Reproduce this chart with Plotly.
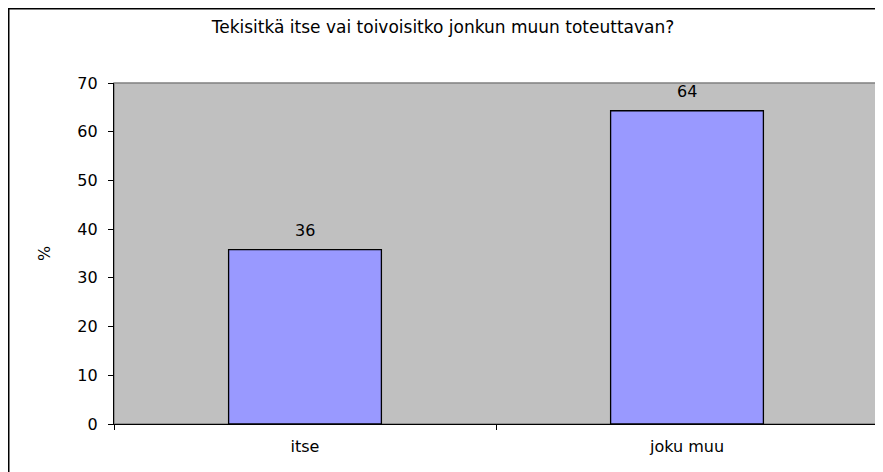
import plotly.graph_objects as go

categories = ["itse", "joku muu"]
values = [35.8, 64.3]
labels = ["36", "64"]
y_ticks = [0, 10, 20, 30, 40, 50, 60, 70]

# page body has an 8px margin, so the figure is drawn 8px in from the window edge
W, H = 875, 464
L, R, T, B = 106, 5, 75, 48
pw, ph = W - L - R, H - T - B

FONT = "DejaVu Sans, Verdana, sans-serif"

fig = go.Figure()
fig.add_trace(go.Bar(
    x=categories, y=values,
    marker=dict(color="#9999FF", line=dict(color="black", width=1.3)),
    width=0.4,
    hoverinfo="skip",
))

for c, v, t in zip(categories, values, labels):
    fig.add_annotation(x=c, y=v, text=t, showarrow=False, yanchor="bottom",
                       yshift=8, font=dict(size=16, color="black"))

# outer chart border (left/top visible at the figure edge)
fig.add_shape(type="rect", xref="paper", yref="paper",
              x0=(0.75 - L) / pw, x1=(W + 5 - L) / pw,
              y0=-(B + 5) / ph, y1=(T + ph - 0.75) / ph,
              line=dict(color="black", width=1.5), layer="below")
# plot-area border (grey top/right)
fig.add_shape(type="rect", xref="paper", yref="paper", x0=0, x1=1, y0=0, y1=1,
              line=dict(color="#808080", width=1.5), layer="below")

fig.update_layout(
    width=W, height=H,
    margin=dict(l=L, r=R, t=T, b=B, pad=0),
    paper_bgcolor="white",
    plot_bgcolor="#C0C0C0",
    font=dict(family=FONT, size=16, color="black"),
    title=dict(text="Tekisitkä itse vai toivoisitko jonkun muun toteuttavan?",
               x=(443 - 8) / W, xref="container", xanchor="center",
               y=1 - 19 / H, yref="container", yanchor="middle",
               font=dict(size=17)),
    showlegend=False,
    xaxis=dict(showline=True, linecolor="black", linewidth=1.3,
               ticks="outside", tickson="boundaries", ticklen=5,
               tickcolor="black", showgrid=False, zeroline=False,
               ticklabelstandoff=8),
    yaxis=dict(range=[0, 70], tickvals=y_ticks, showline=True,
               linecolor="black", linewidth=1.3, ticks="outside", ticklen=5,
               tickcolor="black", showgrid=False, zeroline=False,
               title=dict(text="%", standoff=22, font=dict(size=16)),
               ticklabelstandoff=7),
)

fig.write_html("out.html")
